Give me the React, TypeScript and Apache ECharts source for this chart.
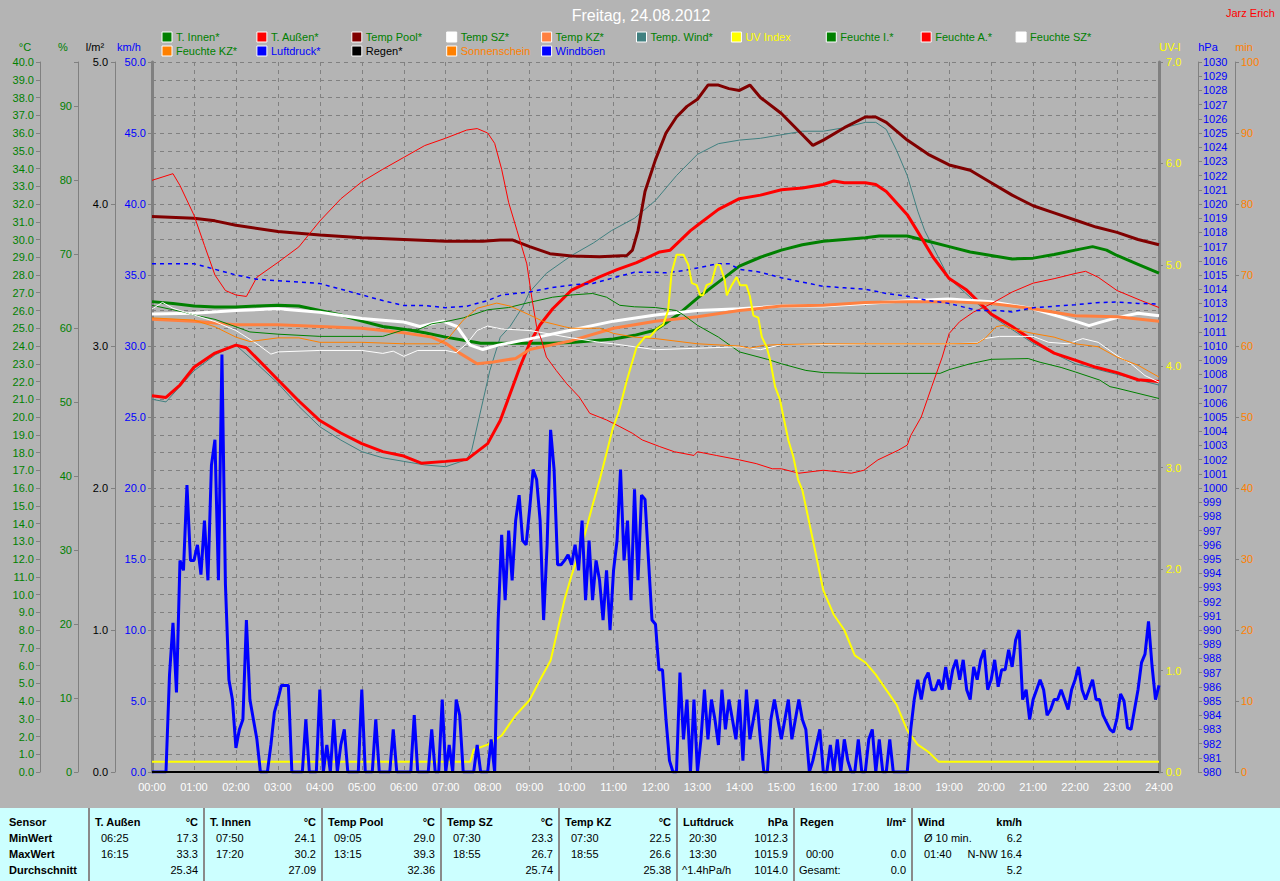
import React, { useEffect, useRef } from "react";
import * as echarts from "echarts";

const FONT = "'Liberation Sans', Arial, sans-serif";

const hourLabels = ["00:00","01:00","02:00","03:00","04:00","05:00","06:00","07:00","08:00","09:00","10:00","11:00","12:00","13:00","14:00","15:00","16:00","17:00","18:00","19:00","20:00","21:00","22:00","23:00","24:00"];

type P = [string, number][];

const tInnen: P = [["00:00",26.5],["00:30",26.4],["01:00",26.25],["01:30",26.2],["02:00",26.2],["02:30",26.25],["03:00",26.3],["03:30",26.25],["04:00",26.0],["04:30",25.75],["05:00",25.4],["05:30",25.1],["06:00",24.95],["06:30",24.75],["07:00",24.5],["07:30",24.3],["07:50",24.15],["08:30",24.15],["09:00",24.15],["09:30",24.15],["10:00",24.2],["10:30",24.3],["11:00",24.4],["11:30",24.6],["12:00",24.9],["12:30",25.7],["13:00",26.7],["13:30",27.6],["14:00",28.5],["14:30",29.0],["15:00",29.4],["15:30",29.7],["16:00",29.9],["16:30",30.0],["17:00",30.1],["17:20",30.2],["18:00",30.2],["18:30",29.9],["19:00",29.6],["19:30",29.3],["20:00",29.1],["20:30",28.9],["21:00",28.95],["21:30",29.15],["22:00",29.4],["22:25",29.6],["22:45",29.4],["23:00",29.1],["23:30",28.6],["24:00",28.1]];

const tAussen: P = [["00:00",21.2],["00:20",21.1],["00:40",21.8],["01:00",22.8],["01:30",23.6],["02:00",24.05],["02:15",23.9],["02:30",23.3],["03:00",22.1],["03:30",20.9],["04:00",19.8],["04:30",19.1],["05:00",18.5],["05:30",18.05],["06:00",17.8],["06:25",17.4],["07:00",17.5],["07:30",17.6],["08:00",18.5],["08:18",19.8],["08:32",21.3],["08:46",22.8],["09:00",24.15],["09:15",25.2],["09:33",26.1],["10:00",27.15],["10:40",27.9],["11:05",28.3],["11:33",28.7],["12:06",29.3],["12:21",29.4],["12:50",30.5],["13:00",30.8],["13:30",31.7],["14:00",32.3],["14:30",32.5],["15:00",32.8],["15:30",32.9],["16:00",33.1],["16:15",33.3],["16:30",33.2],["17:00",33.2],["17:15",33.1],["17:30",32.7],["18:00",31.4],["18:14",30.5],["18:37",29.0],["19:00",27.8],["19:25",27.15],["20:00",25.8],["20:30",25.1],["21:00",24.3],["21:30",23.6],["22:00",23.2],["22:30",22.8],["23:00",22.5],["23:30",22.1],["24:00",22.0]];

const tPool: P = [["00:00",31.3],["01:00",31.2],["01:30",31.05],["02:00",30.8],["03:00",30.45],["04:00",30.25],["05:00",30.1],["06:00",30.0],["07:00",29.9],["07:53",29.9],["08:18",29.97],["08:36",29.97],["09:00",29.6],["09:29",29.2],["10:00",29.07],["10:40",29.03],["11:19",29.1],["11:27",29.4],["11:35",30.5],["11:45",32.7],["12:00",34.5],["12:15",36.0],["12:30",36.9],["12:45",37.5],["13:00",37.9],["13:15",38.7],["13:30",38.7],["13:45",38.5],["14:00",38.4],["14:15",38.7],["14:30",38.0],["15:00",37.1],["15:30",35.9],["15:45",35.3],["16:00",35.6],["16:30",36.3],["17:00",36.9],["17:15",36.9],["17:30",36.6],["18:00",35.6],["18:30",34.8],["19:00",34.2],["19:30",33.9],["20:00",33.2],["20:30",32.5],["21:00",31.9],["21:30",31.5],["22:00",31.1],["22:30",30.7],["23:00",30.4],["23:30",30.0],["24:00",29.7]];

const tSZ: P = [["00:00",25.8],["01:00",25.85],["02:00",26.0],["03:00",26.1],["04:00",25.9],["05:00",25.55],["06:00",25.35],["06:23",25.1],["06:56",25.4],["07:16",25.1],["07:35",24.05],["07:53",23.8],["08:15",24.05],["09:00",24.4],["10:00",24.9],["11:00",25.4],["12:00",25.75],["13:00",26.0],["14:00",26.1],["15:00",26.25],["16:00",26.25],["17:00",26.4],["18:00",26.55],["19:00",26.65],["20:00",26.5],["21:00",26.1],["21:30",25.75],["22:00",25.4],["22:20",25.15],["22:33",25.3],["23:00",25.6],["23:30",25.85],["24:00",25.7]];

const tKZ: P = [["00:00",25.5],["01:00",25.4],["02:00",25.2],["03:00",25.2],["04:00",25.1],["05:00",25.0],["06:00",24.75],["06:40",24.5],["07:00",24.15],["07:20",23.6],["07:45",23.0],["08:08",23.1],["08:40",23.3],["09:00",23.8],["09:30",24.05],["10:00",24.3],["11:00",25.0],["12:00",25.4],["13:00",25.65],["14:00",26.0],["15:00",26.25],["16:00",26.3],["17:00",26.45],["18:00",26.5],["19:00",26.5],["20:00",26.4],["21:00",26.1],["22:00",25.7],["23:00",25.65],["24:00",25.4]];

const tWind: P = [["00:00",21.0],["00:20",20.85],["01:00",22.6],["01:30",23.5],["02:00",24.05],["02:30",23.0],["03:00",21.9],["03:30",20.6],["04:00",19.45],["04:30",18.7],["05:00",18.05],["05:30",17.7],["06:00",17.5],["06:30",17.3],["07:00",17.2],["07:30",17.6],["07:37",18.1],["07:48",20.0],["08:03",22.6],["08:18",24.5],["08:32",25.1],["08:50",26.2],["09:00",27.05],["09:24",28.1],["10:00",29.1],["10:31",29.8],["10:57",30.5],["11:30",31.2],["12:00",32.2],["12:30",33.6],["13:00",34.8],["13:30",35.4],["14:00",35.6],["14:30",35.7],["15:00",35.9],["15:30",36.1],["16:00",36.1],["16:30",36.3],["17:00",36.6],["17:15",36.6],["17:30",36.2],["17:45",35.0],["18:00",33.6],["18:15",31.6],["18:25",30.5],["19:00",27.8],["20:00",25.7],["21:00",24.15],["22:00",23.0],["23:00",22.4],["24:00",21.8]];

const uvIndex: P = [["00:00",0.1],["07:35",0.1],["07:40",0.22],["08:00",0.27],["08:20",0.36],["08:40",0.56],["09:00",0.71],["09:15",0.91],["09:30",1.1],["09:40",1.4],["09:50",1.7],["10:00",1.94],["10:15",2.24],["10:30",2.63],["10:41",2.9],["10:59",3.39],["11:07",3.54],["11:19",3.86],["11:33",4.19],["11:45",4.29],["11:52",4.29],["12:02",4.37],["12:11",4.41],["12:18",4.55],["12:23",4.92],["12:30",5.1],["12:40",5.1],["12:47",5.0],["12:52",4.82],["12:59",4.8],["13:04",4.7],["13:08",4.7],["13:13",4.8],["13:20",4.82],["13:27",5.0],["13:32",5.0],["13:39",4.85],["13:42",4.7],["13:49",4.8],["13:56",4.88],["14:01",4.8],["14:10",4.8],["14:15",4.69],["14:20",4.5],["14:27",4.48],["14:32",4.29],["14:39",4.19],["14:44",4.06],["14:51",3.8],["14:58",3.67],["15:03",3.5],["15:10",3.27],["15:17",3.11],["15:24",2.88],["15:30",2.78],["15:45",2.29],["16:00",1.79],["16:15",1.55],["16:30",1.4],["16:45",1.15],["17:00",1.08],["17:15",0.96],["17:30",0.81],["17:45",0.66],["18:00",0.41],["18:15",0.27],["18:30",0.2],["18:45",0.1],["24:00",0.1]];

const feuchteI: P = [["00:00",63.1],["00:45",62.2],["01:00",61.8],["01:30",61.2],["02:00",60.2],["02:20",59.5],["03:00",59.2],["04:00",58.9],["05:00",58.9],["05:30",58.9],["06:00",59.8],["06:20",59.8],["06:40",60.6],["07:00",60.9],["07:25",61.4],["08:00",62.5],["08:30",62.8],["09:00",63.5],["09:33",64.2],["10:00",64.5],["10:30",64.7],["10:50",64.2],["11:09",63.1],["11:30",62.9],["12:00",62.8],["12:30",62.4],["12:40",61.8],["13:00",60.4],["13:30",58.8],["14:00",56.8],["14:40",55.8],["15:00",55.2],["15:35",54.3],["16:00",54.0],["17:00",53.9],["18:00",53.9],["18:47",53.9],["19:00",54.4],["19:30",55.2],["20:00",55.8],["20:53",55.9],["21:10",55.4],["21:40",54.7],["22:00",54.1],["22:35",53.0],["22:50",52.1],["23:00",51.9],["23:30",51.2],["24:00",50.5]];

const feuchteA: P = [["00:00",80.0],["00:30",80.9],["00:40",79.3],["01:00",75.3],["01:15",71.2],["01:30",67.2],["01:45",65.1],["02:00",64.5],["02:15",64.3],["02:30",66.9],["03:00",68.9],["03:30",71.0],["04:00",74.5],["04:30",77.5],["05:00",79.8],["05:30",81.5],["06:00",83.1],["06:30",84.7],["07:00",85.7],["07:30",86.8],["07:45",87.0],["08:00",86.4],["08:10",85.0],["08:20",81.5],["08:30",77.0],["08:42",73.2],["08:56",68.7],["09:03",64.2],["09:10",60.2],["09:17",58.4],["09:24",56.1],["09:38",54.3],["09:53",52.5],["10:11",50.7],["10:26",48.5],["10:50",47.6],["11:09",46.7],["11:27",45.8],["11:41",44.9],["12:06",44.0],["12:27",43.3],["12:55",42.8],["13:00",43.3],["13:27",42.8],["14:00",42.2],["14:24",41.7],["14:47",41.0],["15:00",41.0],["15:25",40.4],["16:00",40.8],["16:40",40.4],["16:58",40.8],["17:18",42.2],["17:47",43.5],["18:00",44.2],["18:05",45.5],["18:20",48.0],["18:35",52.1],["18:50",56.1],["19:00",59.3],["19:15",60.9],["19:35",62.2],["20:00",63.3],["20:30",64.9],["21:00",66.1],["21:30",66.7],["22:00",67.4],["22:15",67.7],["22:33",66.9],["23:00",65.1],["23:33",63.8],["24:00",62.8]];

const feuchteSZ: P = [["00:00",62.6],["00:15",63.5],["00:30",62.7],["01:00",61.8],["01:30",60.9],["02:00",59.7],["02:30",57.9],["02:50",56.5],["03:00",56.8],["04:00",57.0],["05:00",57.0],["05:30",56.6],["05:45",56.9],["06:00",56.2],["06:20",57.0],["07:00",57.0],["07:15",56.7],["07:30",57.9],["07:45",59.7],["08:00",60.3],["08:20",59.9],["09:00",59.7],["10:00",58.7],["10:40",58.1],["11:00",57.9],["12:00",57.1],["13:00",57.3],["14:00",57.5],["14:30",57.1],["15:00",57.8],["16:00",57.8],["17:00",57.9],["18:00",57.9],["19:00",57.9],["19:40",58.0],["19:50",58.6],["20:12",58.9],["21:00",58.9],["21:22",58.1],["21:50",57.9],["22:11",58.6],["22:33",58.1],["23:00",56.3],["23:20",55.2],["23:40",53.6],["24:00",52.7]];

const feuchteKZ: P = [["00:00",61.4],["01:00",61.1],["01:30",60.2],["02:00",58.8],["02:20",58.2],["03:00",58.7],["03:30",58.7],["03:45",58.4],["04:00",58.1],["05:00",58.1],["06:00",57.9],["06:50",57.9],["07:05",58.8],["07:25",61.1],["07:45",62.7],["08:13",63.4],["08:32",63.0],["09:00",61.8],["09:20",60.9],["09:50",60.2],["10:00",60.0],["10:40",60.0],["11:00",59.3],["11:30",58.8],["12:00",58.6],["13:00",57.9],["14:00",57.6],["14:15",57.3],["14:35",57.7],["15:00",57.8],["16:00",57.9],["17:00",57.9],["18:00",57.9],["19:00",57.9],["19:40",57.95],["19:51",58.6],["20:07",60.2],["20:17",60.4],["20:30",59.9],["21:00",59.3],["21:30",58.8],["22:00",57.9],["22:33",57.5],["23:00",56.1],["23:30",55.0],["24:00",53.4]];

const luftdruck: P = [["00:00",1015.8],["01:00",1015.8],["01:30",1015.4],["02:00",1015.0],["02:30",1014.7],["03:00",1014.6],["03:30",1014.5],["04:00",1014.4],["04:30",1014.0],["05:00",1013.6],["05:30",1013.2],["06:00",1012.85],["06:30",1012.85],["07:00",1012.7],["07:30",1012.8],["08:00",1013.2],["08:20",1013.6],["09:00",1013.8],["09:30",1014.1],["10:00",1014.3],["10:30",1014.4],["11:00",1014.8],["11:30",1015.2],["12:00",1015.2],["12:15",1015.15],["12:40",1015.3],["13:00",1015.5],["13:30",1015.8],["13:45",1015.8],["14:00",1015.4],["14:30",1015.2],["15:00",1014.8],["15:30",1014.5],["16:00",1014.2],["16:30",1014.1],["17:00",1014.0],["17:30",1013.7],["18:00",1013.5],["18:30",1013.2],["19:00",1013.0],["19:40",1012.5],["20:10",1012.5],["20:30",1012.4],["21:00",1012.7],["21:30",1012.8],["22:00",1012.9],["22:30",1013.05],["23:00",1013.1],["23:30",1013.0],["24:00",1012.95]];

const regen: P = [["00:00",0],["24:00",0]];
const sonnenschein: P = [["00:00",0],["24:00",0]];

// Windböen, km/h, one value every 5 minutes from 00:00 to 24:00
const windStepMin = 5;
const windboeen: number[] = [
  0,0,0,0,0,6.8,10.5,5.6,14.9,14.2,20.2,14.9,
  14.9,16.0,13.9,17.7,13.5,21.6,23.4,13.5,29.4,13.2,6.5,5.1,
  1.7,3.0,3.7,10.7,5.1,3.7,2.3,0,0,0,1.9,4.2,
  5.1,6.1,6.1,6.1,0,0,0,0,3.7,0,0,0,
  5.8,0,1.9,0,3.7,0,1.9,3.0,0,0,0,0,
  5.8,0,0,0,3.7,0,0,0,0,3.0,0,0,
  0,0,0,4.0,0,0,0,0,3.0,0,0,5.1,
  0,1.9,0,5.1,4.0,0,0,0,0,1.9,0,0,
  0,2.3,0,10.7,16.7,12.1,17.0,13.5,17.7,19.5,16.3,16.0,
  18.5,21.3,20.6,17.7,10.7,16.0,24.1,21.3,14.6,14.6,14.9,15.3,
  14.6,16.0,14.2,17.7,12.1,16.3,12.1,14.9,13.5,10.7,14.2,10.0,
  14.2,16.3,21.3,14.9,17.7,12.1,19.9,13.5,19.5,19.2,14.9,10.7,
  10.4,7.2,7.2,3.7,0.8,0,0,7.0,2.3,5.1,0,5.1,
  0,2.3,5.8,2.3,5.1,3.7,1.9,5.8,3.0,5.1,3.7,2.3,
  5.1,0.8,5.8,2.3,3.7,5.1,2.3,0,0,3.7,5.1,3.7,
  2.3,3.7,5.1,2.3,3.7,5.1,3.7,3.0,0,0.8,1.9,3.0,
  0,0,1.9,0,2.3,0,2.3,0.8,0,0,2.3,0,
  0,2.3,3.0,0,2.3,0,0,2.3,0,0,0,0,
  0,3.0,5.1,6.5,5.1,6.5,7.0,5.8,5.8,6.5,5.8,7.4,
  5.8,7.2,7.9,6.5,7.9,5.8,5.1,7.4,6.5,7.9,8.6,5.8,
  6.5,7.9,6.0,7.2,7.2,8.6,7.4,9.3,10.0,5.1,5.8,3.7,
  5.1,5.8,6.5,5.8,4.0,4.4,5.1,5.1,5.8,5.1,4.4,5.8,
  6.5,7.4,5.8,5.1,5.8,6.5,5.1,5.1,4.0,3.5,3.0,2.8,
  3.8,5.5,5.0,3.1,3.0,4.4,5.8,7.7,8.3,10.6,7.5,5.1,
  6.1
];

// statistics table
const statHeaders = [["T. Außen","°C"],["T. Innen","°C"],["Temp Pool","°C"],["Temp SZ","°C"],["Temp KZ","°C"],["Luftdruck","hPa"],["Regen","l/m²"],["Wind","km/h"]];
const statMin = [["06:25","17.3"],["07:50","24.1"],["09:05","29.0"],["07:30","23.3"],["07:30","22.5"],["20:30","1012.3"],["",""],["Ø 10 min.","6.2"]];
const statMax = [["16:15","33.3"],["17:20","30.2"],["13:15","39.3"],["18:55","26.7"],["18:55","26.6"],["13:30","1015.9"],["00:00","0.0"],["01:40","N-NW 16.4"]];
const statAvg = [["","25.34"],["","27.09"],["","32.36"],["","25.74"],["","25.38"],["^1.4hPa/h","1014.0"],["Gesamt:","0.0"],["","5.2"]];
const rowLabels = ["Sensor","MinWert","MaxWert","Durchschnitt"];

const legendItems = [
  { label: "T. Innen*", box: "#008000", text: "#008000" },
  { label: "T. Außen*", box: "#ff0000", text: "#008000" },
  { label: "Temp Pool*", box: "#800000", text: "#008000" },
  { label: "Temp SZ*", box: "#ffffff", text: "#008000" },
  { label: "Temp KZ*", box: "#ff8040", text: "#008000" },
  { label: "Temp. Wind*", box: "#408080", text: "#008000" },
  { label: "UV Index", box: "#ffff00", text: "#ffff00" },
  { label: "Feuchte I.*", box: "#008000", text: "#008000" },
  { label: "Feuchte A.*", box: "#ff0000", text: "#008000" },
  { label: "Feuchte SZ*", box: "#ffffff", text: "#008000" },
  { label: "Feuchte KZ*", box: "#ff8000", text: "#008000" },
  { label: "Luftdruck*", box: "#0000ff", text: "#0000ff" },
  { label: "Regen*", box: "#000000", text: "#000000" },
  { label: "Sonnenschein", box: "#ff8000", text: "#ff8000" },
  { label: "Windböen", box: "#0000ff", text: "#0000ff" },
];

const toH = (s: string) => {
  const [h, m] = s.split(":").map(Number);
  return h + m / 60;
};
const pts = (arr: P) => arr.map(([t, v]) => [toH(t), v]);

function buildOption() {
  const line = (name: string, data: any[], yAxisIndex: number, color: string, width: number, extra: any = {}) => ({
    name, type: "line", data, yAxisIndex, showSymbol: false, symbol: "none", silent: true,
    lineStyle: { color, width, ...(extra.lineStyle || {}) }, itemStyle: { color },
    z: extra.z ?? 2,
  });

  const yAx = (position: string, offset: number, min: number, max: number, interval: number, color: string, fmt: (v: number) => string, margin: number, lw: number) => ({
    type: "value", position, offset, min, max, interval,
    axisLine: { show: true, onZero: false, lineStyle: { color: "#808080", width: lw } },
    axisTick: { show: true, length: 4, lineStyle: { color: "#808080" } },
    axisLabel: { color, formatter: fmt, margin, fontSize: 11, fontFamily: FONT, showMaxLabel: true, showMinLabel: true },
    splitLine: { show: false },
  });

  const yAxes: any[] = [
    yAx("left", 112, 0, 40, 1, "#008000", (v) => v.toFixed(1), 6, 1),
    yAx("left", 74, 0, 96, 10, "#008000", (v) => (v % 10 === 0 ? String(v) : ""), 6, 1),
    yAx("left", 37, 0, 5, 1, "#000000", (v) => v.toFixed(1), 7, 1),
    yAx("left", 0, 0, 50, 5, "#0000ff", (v) => v.toFixed(1), 6, 3),
    yAx("right", 0, 0, 7, 1, "#ffff00", (v) => v.toFixed(1), 7, 3),
    yAx("right", 39, 980, 1030, 1, "#0000ff", (v) => String(v), 5, 1),
    yAx("right", 76, 0, 100, 10, "#ff8000", (v) => String(v), 6, 1),
  ];
  yAxes[0].splitLine = { show: true, lineStyle: { color: "#808080", width: 1, type: [4, 4] } };

  const windData = windboeen.map((v, i) => [(i * windStepMin) / 60, v]);

  const series = [
    line("T. Innen*", pts(tInnen), 0, "#008000", 3),
    line("T. Außen*", pts(tAussen), 0, "#ff0000", 3),
    line("Temp Pool*", pts(tPool), 0, "#800000", 3),
    line("Temp SZ*", pts(tSZ), 0, "#ffffff", 3),
    line("Temp KZ*", pts(tKZ), 0, "#ff8040", 3),
    line("Temp. Wind*", pts(tWind), 0, "#408080", 1, { z: 1 }),
    line("Feuchte I.*", pts(feuchteI), 1, "#008000", 1),
    line("Feuchte A.*", pts(feuchteA), 1, "#ff0000", 1),
    line("Feuchte SZ*", pts(feuchteSZ), 1, "#ffffff", 1),
    line("Feuchte KZ*", pts(feuchteKZ), 1, "#ff8000", 1),
    line("Luftdruck*", pts(luftdruck), 5, "#0000ff", 1.5, { lineStyle: { type: [4, 4] } }),
    line("UV Index", pts(uvIndex), 4, "#ffff00", 2, { z: 3 }),
    line("Windböen", windData, 3, "#0000ff", 3, { z: 3 }),
    line("Sonnenschein", pts(sonnenschein), 6, "#ff8000", 2, { z: 4 }),
    line("Regen*", pts(regen), 2, "#000000", 2, { z: 5 }),
  ];

  const graphic: any[] = [];
  const txt = (text: string, x: number, y: number, fill: string, size = 11, align = "left", weight = "normal") => ({
    type: "text", x, y, silent: true, z: 100,
    style: { text, fill, font: `${weight} ${size}px ${FONT}`, align, verticalAlign: "middle", textAlign: align, textVerticalAlign: "middle" },
  });

  // title
  graphic.push(txt("Freitag, 24.08.2012", 641, 15, "#ffffff", 16, "center"));
  graphic.push(txt("Jarz Erich", 1226, 13, "#ff0000", 11, "left"));

  // axis names
  graphic.push(txt("°C", 25, 47, "#008000", 11, "center"));
  graphic.push(txt("%", 63, 47, "#008000", 11, "center"));
  graphic.push(txt("l/m²", 95, 47, "#000000", 11, "center"));
  graphic.push(txt("km/h", 129, 47, "#0000ff", 11, "center"));
  graphic.push(txt("UV-I", 1170, 47, "#ffff00", 11, "center"));
  graphic.push(txt("hPa", 1208, 47, "#0000ff", 11, "center"));
  graphic.push(txt("min", 1244, 47, "#ff8000", 11, "center"));

  // legend
  legendItems.forEach((it, i) => {
    const col = i < 10 ? i : i - 10;
    const row = i < 10 ? 0 : 1;
    const bx = 162 + col * 94.9;
    const by = row === 0 ? 37 : 51;
    graphic.push({ type: "rect", silent: true, z: 100, shape: { x: bx, y: by - 5, width: 10, height: 10 }, style: { fill: it.box, stroke: "#ffffff", lineWidth: 1 } });
    graphic.push(txt(it.label, bx + 14, by, it.text, 11, "left"));
  });

  // stats table
  graphic.push({ type: "rect", silent: true, z: 90, shape: { x: 0, y: 808, width: 1280, height: 73 }, style: { fill: "#ccffff" } });
  const seps = [89, 204, 322, 441, 559, 677, 794, 912, 1028];
  for (let i = 0; i < 8; i++) {
    graphic.push({ type: "line", silent: true, z: 95, shape: { x1: seps[i], y1: 808, x2: seps[i], y2: 881 }, style: { stroke: "#8a8a8a", lineWidth: 2 } });
  }
  const rowY = [822, 838, 854, 870];
  rowLabels.forEach((l, r) => graphic.push(txt(l, 9, rowY[r], "#000000", 11, "left", "bold")));
  statHeaders.forEach((h, c) => {
    const L = seps[c], R = seps[c + 1];
    graphic.push(txt(h[0], L + 6, rowY[0], "#000000", 11, "left", "bold"));
    graphic.push(txt(h[1], R - 6, rowY[0], "#000000", 11, "right", "bold"));
    const rows = [statMin[c], statMax[c], statAvg[c]];
    rows.forEach((rv, r) => {
      if (rv[0]) graphic.push(txt(rv[0], L + (r === 2 ? 5 : 12), rowY[r + 1], "#000000", 11, "left"));
      if (rv[1]) graphic.push(txt(rv[1], R - 6, rowY[r + 1], "#000000", 11, "right"));
    });
  });

  return {
    animation: false,
    backgroundColor: "#b4b4b4",
    textStyle: { fontFamily: FONT },
    grid: { left: 152, right: 121, top: 62, bottom: 109, containLabel: false, outerBoundsMode: "none" },
    xAxis: {
      type: "value", min: 0, max: 24, interval: 1,
      axisLine: { show: true, onZero: false, lineStyle: { color: "#000000", width: 1 } },
      axisTick: { show: false },
      axisLabel: { color: "#ffffff", fontSize: 11, fontFamily: FONT, margin: 9, formatter: (v: number) => hourLabels[v] ?? "" },
      splitLine: { show: true, lineStyle: { color: "#808080", width: 1, type: [4, 4] } },
    },
    yAxis: yAxes,
    series,
    graphic,
  };
}

export default function App() {
  const ref = useRef<HTMLDivElement>(null);
  useEffect(() => {
    if (!ref.current) return;
    const chart = echarts.init(ref.current, null, { renderer: "svg" });
    chart.setOption(buildOption() as any);
    return () => chart.dispose();
  }, []);
  return <div ref={ref} style={{ position: "absolute", left: 0, top: 0, width: 1280, height: 881 }} />;
}
